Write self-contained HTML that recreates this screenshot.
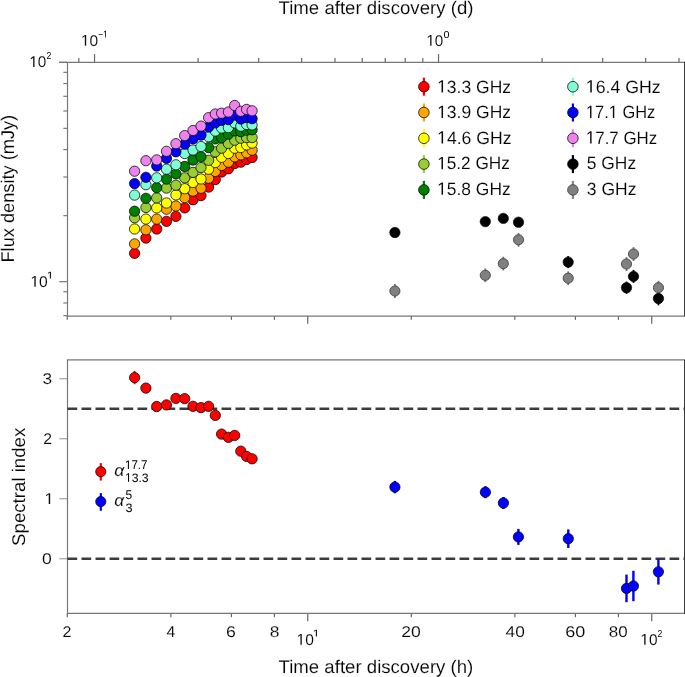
<!DOCTYPE html><html><head><meta charset="utf-8"><style>html,body{margin:0;padding:0;background:#fff;overflow:hidden}svg{display:block;will-change:transform}text{stroke:#fff;stroke-width:0.12px}</style></head><body><svg width="685" height="677" viewBox="0 0 685 677" text-rendering="geometricPrecision" font-family='"Liberation Sans", sans-serif' fill="#000">
<rect width="685" height="677" fill="#fff"/>
<line x1="63.3" y1="315.69" x2="67.5" y2="315.69" stroke="#777" stroke-width="1.2"/>
<line x1="63.3" y1="302.96" x2="67.5" y2="302.96" stroke="#777" stroke-width="1.2"/>
<line x1="63.3" y1="291.74" x2="67.5" y2="291.74" stroke="#777" stroke-width="1.2"/>
<line x1="63.3" y1="215.65" x2="67.5" y2="215.65" stroke="#777" stroke-width="1.2"/>
<line x1="63.3" y1="177.02" x2="67.5" y2="177.02" stroke="#777" stroke-width="1.2"/>
<line x1="63.3" y1="149.61" x2="67.5" y2="149.61" stroke="#777" stroke-width="1.2"/>
<line x1="63.3" y1="128.35" x2="67.5" y2="128.35" stroke="#777" stroke-width="1.2"/>
<line x1="63.3" y1="110.97" x2="67.5" y2="110.97" stroke="#777" stroke-width="1.2"/>
<line x1="63.3" y1="96.29" x2="67.5" y2="96.29" stroke="#777" stroke-width="1.2"/>
<line x1="63.3" y1="83.56" x2="67.5" y2="83.56" stroke="#777" stroke-width="1.2"/>
<line x1="63.3" y1="72.34" x2="67.5" y2="72.34" stroke="#777" stroke-width="1.2"/>
<line x1="59.2" y1="281.70" x2="67.5" y2="281.70" stroke="#777" stroke-width="1.2"/>
<line x1="59.2" y1="62.30" x2="67.5" y2="62.30" stroke="#777" stroke-width="1.2"/>
<line x1="78.80" y1="58.1" x2="78.80" y2="62.3" stroke="#666" stroke-width="1.2"/>
<line x1="198.10" y1="58.1" x2="198.10" y2="62.3" stroke="#666" stroke-width="1.2"/>
<line x1="258.67" y1="58.1" x2="258.67" y2="62.3" stroke="#666" stroke-width="1.2"/>
<line x1="301.65" y1="58.1" x2="301.65" y2="62.3" stroke="#666" stroke-width="1.2"/>
<line x1="334.99" y1="58.1" x2="334.99" y2="62.3" stroke="#666" stroke-width="1.2"/>
<line x1="362.23" y1="58.1" x2="362.23" y2="62.3" stroke="#666" stroke-width="1.2"/>
<line x1="385.26" y1="58.1" x2="385.26" y2="62.3" stroke="#666" stroke-width="1.2"/>
<line x1="405.21" y1="58.1" x2="405.21" y2="62.3" stroke="#666" stroke-width="1.2"/>
<line x1="422.80" y1="58.1" x2="422.80" y2="62.3" stroke="#666" stroke-width="1.2"/>
<line x1="542.10" y1="58.1" x2="542.10" y2="62.3" stroke="#666" stroke-width="1.2"/>
<line x1="602.67" y1="58.1" x2="602.67" y2="62.3" stroke="#666" stroke-width="1.2"/>
<line x1="645.65" y1="58.1" x2="645.65" y2="62.3" stroke="#666" stroke-width="1.2"/>
<line x1="678.99" y1="58.1" x2="678.99" y2="62.3" stroke="#666" stroke-width="1.2"/>
<line x1="94.54" y1="54.0" x2="94.54" y2="62.3" stroke="#666" stroke-width="1.2"/>
<line x1="438.54" y1="54.0" x2="438.54" y2="62.3" stroke="#666" stroke-width="1.2"/>
<line x1="67.30" y1="316.05" x2="67.30" y2="319.85" stroke="#666" stroke-width="1.2"/>
<line x1="170.86" y1="316.05" x2="170.86" y2="319.85" stroke="#666" stroke-width="1.2"/>
<line x1="231.43" y1="316.05" x2="231.43" y2="319.85" stroke="#666" stroke-width="1.2"/>
<line x1="274.41" y1="316.05" x2="274.41" y2="319.85" stroke="#666" stroke-width="1.2"/>
<line x1="411.30" y1="316.05" x2="411.30" y2="319.85" stroke="#666" stroke-width="1.2"/>
<line x1="514.86" y1="316.05" x2="514.86" y2="319.85" stroke="#666" stroke-width="1.2"/>
<line x1="575.43" y1="316.05" x2="575.43" y2="319.85" stroke="#666" stroke-width="1.2"/>
<line x1="618.41" y1="316.05" x2="618.41" y2="319.85" stroke="#666" stroke-width="1.2"/>
<line x1="307.75" y1="316.05" x2="307.75" y2="323.85" stroke="#666" stroke-width="1.2"/>
<line x1="651.75" y1="316.05" x2="651.75" y2="323.85" stroke="#666" stroke-width="1.2"/>
<line x1="67.30" y1="613.4" x2="67.30" y2="617.1999999999999" stroke="#666" stroke-width="1.2"/>
<line x1="170.86" y1="613.4" x2="170.86" y2="617.1999999999999" stroke="#666" stroke-width="1.2"/>
<line x1="231.43" y1="613.4" x2="231.43" y2="617.1999999999999" stroke="#666" stroke-width="1.2"/>
<line x1="274.41" y1="613.4" x2="274.41" y2="617.1999999999999" stroke="#666" stroke-width="1.2"/>
<line x1="411.30" y1="613.4" x2="411.30" y2="617.1999999999999" stroke="#666" stroke-width="1.2"/>
<line x1="514.86" y1="613.4" x2="514.86" y2="617.1999999999999" stroke="#666" stroke-width="1.2"/>
<line x1="575.43" y1="613.4" x2="575.43" y2="617.1999999999999" stroke="#666" stroke-width="1.2"/>
<line x1="618.41" y1="613.4" x2="618.41" y2="617.1999999999999" stroke="#666" stroke-width="1.2"/>
<line x1="307.75" y1="613.4" x2="307.75" y2="621.1999999999999" stroke="#666" stroke-width="1.2"/>
<line x1="651.75" y1="613.4" x2="651.75" y2="621.1999999999999" stroke="#666" stroke-width="1.2"/>
<line x1="59.3" y1="558.70" x2="67.5" y2="558.70" stroke="#a8a8a8" stroke-width="1.3"/>
<line x1="59.3" y1="498.70" x2="67.5" y2="498.70" stroke="#a8a8a8" stroke-width="1.3"/>
<line x1="59.3" y1="438.70" x2="67.5" y2="438.70" stroke="#a8a8a8" stroke-width="1.3"/>
<line x1="59.3" y1="378.70" x2="67.5" y2="378.70" stroke="#a8a8a8" stroke-width="1.3"/>
<line x1="59.2" y1="62.3" x2="684.0" y2="62.3" stroke="#777" stroke-width="1.2"/>
<line x1="66.9" y1="316.05" x2="684.0" y2="316.05" stroke="#777" stroke-width="1.2"/>
<line x1="67.5" y1="62.3" x2="67.5" y2="316.65000000000003" stroke="#777" stroke-width="1.2"/>
<line x1="66.9" y1="359.9" x2="684.0" y2="359.9" stroke="#777" stroke-width="1.2"/>
<line x1="66.9" y1="613.4" x2="684.0" y2="613.4" stroke="#777" stroke-width="1.2"/>
<line x1="67.5" y1="359.9" x2="67.5" y2="614.0" stroke="#777" stroke-width="1.2"/>
<line x1="684.5" y1="61.699999999999996" x2="684.5" y2="316.65000000000003" stroke="#3a3a3a" stroke-width="1.0"/>
<line x1="684.5" y1="359.29999999999995" x2="684.5" y2="614.0" stroke="#3a3a3a" stroke-width="1.0"/>
<line x1="67.5" y1="408.70" x2="684.5" y2="408.70" stroke="#3c3c3c" stroke-width="2.6" stroke-dasharray="9.7 4.3"/>
<line x1="67.5" y1="558.70" x2="684.5" y2="558.70" stroke="#3c3c3c" stroke-width="2.6" stroke-dasharray="9.7 4.3"/>
<line x1="134.60" y1="248.80" x2="134.60" y2="257.80" stroke="#ff0000" stroke-width="1.6"/>
<line x1="145.90" y1="233.60" x2="145.90" y2="242.60" stroke="#ff0000" stroke-width="1.6"/>
<line x1="156.70" y1="224.50" x2="156.70" y2="233.50" stroke="#ff0000" stroke-width="1.6"/>
<line x1="166.50" y1="216.80" x2="166.50" y2="225.80" stroke="#ff0000" stroke-width="1.6"/>
<line x1="175.90" y1="211.90" x2="175.90" y2="220.90" stroke="#ff0000" stroke-width="1.6"/>
<line x1="184.70" y1="203.40" x2="184.70" y2="212.40" stroke="#ff0000" stroke-width="1.6"/>
<line x1="193.00" y1="195.30" x2="193.00" y2="204.30" stroke="#ff0000" stroke-width="1.6"/>
<line x1="201.00" y1="191.10" x2="201.00" y2="200.10" stroke="#ff0000" stroke-width="1.6"/>
<line x1="208.60" y1="182.60" x2="208.60" y2="191.60" stroke="#ff0000" stroke-width="1.6"/>
<line x1="215.30" y1="175.10" x2="215.30" y2="184.10" stroke="#ff0000" stroke-width="1.6"/>
<line x1="221.60" y1="167.50" x2="221.60" y2="176.50" stroke="#ff0000" stroke-width="1.6"/>
<line x1="228.40" y1="164.30" x2="228.40" y2="173.30" stroke="#ff0000" stroke-width="1.6"/>
<line x1="234.70" y1="159.00" x2="234.70" y2="168.00" stroke="#ff0000" stroke-width="1.6"/>
<line x1="240.80" y1="157.70" x2="240.80" y2="166.70" stroke="#ff0000" stroke-width="1.6"/>
<line x1="246.60" y1="155.00" x2="246.60" y2="164.00" stroke="#ff0000" stroke-width="1.6"/>
<line x1="252.10" y1="153.00" x2="252.10" y2="162.00" stroke="#ff0000" stroke-width="1.6"/>
<circle cx="134.60" cy="253.30" r="5.15" fill="#ff0000" stroke="#000" stroke-width="0.75"/>
<circle cx="145.90" cy="238.10" r="5.15" fill="#ff0000" stroke="#000" stroke-width="0.75"/>
<circle cx="156.70" cy="229.00" r="5.15" fill="#ff0000" stroke="#000" stroke-width="0.75"/>
<circle cx="166.50" cy="221.30" r="5.15" fill="#ff0000" stroke="#000" stroke-width="0.75"/>
<circle cx="175.90" cy="216.40" r="5.15" fill="#ff0000" stroke="#000" stroke-width="0.75"/>
<circle cx="184.70" cy="207.90" r="5.15" fill="#ff0000" stroke="#000" stroke-width="0.75"/>
<circle cx="193.00" cy="199.80" r="5.15" fill="#ff0000" stroke="#000" stroke-width="0.75"/>
<circle cx="201.00" cy="195.60" r="5.15" fill="#ff0000" stroke="#000" stroke-width="0.75"/>
<circle cx="208.60" cy="187.10" r="5.15" fill="#ff0000" stroke="#000" stroke-width="0.75"/>
<circle cx="215.30" cy="179.60" r="5.15" fill="#ff0000" stroke="#000" stroke-width="0.75"/>
<circle cx="221.60" cy="172.00" r="5.15" fill="#ff0000" stroke="#000" stroke-width="0.75"/>
<circle cx="228.40" cy="168.80" r="5.15" fill="#ff0000" stroke="#000" stroke-width="0.75"/>
<circle cx="234.70" cy="163.50" r="5.15" fill="#ff0000" stroke="#000" stroke-width="0.75"/>
<circle cx="240.80" cy="162.20" r="5.15" fill="#ff0000" stroke="#000" stroke-width="0.75"/>
<circle cx="246.60" cy="159.50" r="5.15" fill="#ff0000" stroke="#000" stroke-width="0.75"/>
<circle cx="252.10" cy="157.50" r="5.15" fill="#ff0000" stroke="#000" stroke-width="0.75"/>
<line x1="134.60" y1="239.40" x2="134.60" y2="248.40" stroke="#ffa500" stroke-width="1.6"/>
<line x1="145.90" y1="225.30" x2="145.90" y2="234.30" stroke="#ffa500" stroke-width="1.6"/>
<line x1="156.70" y1="214.60" x2="156.70" y2="223.60" stroke="#ffa500" stroke-width="1.6"/>
<line x1="166.50" y1="204.70" x2="166.50" y2="213.70" stroke="#ffa500" stroke-width="1.6"/>
<line x1="175.90" y1="201.50" x2="175.90" y2="210.50" stroke="#ffa500" stroke-width="1.6"/>
<line x1="184.70" y1="193.20" x2="184.70" y2="202.20" stroke="#ffa500" stroke-width="1.6"/>
<line x1="193.00" y1="186.60" x2="193.00" y2="195.60" stroke="#ffa500" stroke-width="1.6"/>
<line x1="201.00" y1="183.80" x2="201.00" y2="192.80" stroke="#ffa500" stroke-width="1.6"/>
<line x1="208.60" y1="173.70" x2="208.60" y2="182.70" stroke="#ffa500" stroke-width="1.6"/>
<line x1="215.30" y1="166.90" x2="215.30" y2="175.90" stroke="#ffa500" stroke-width="1.6"/>
<line x1="221.60" y1="160.90" x2="221.60" y2="169.90" stroke="#ffa500" stroke-width="1.6"/>
<line x1="228.40" y1="157.70" x2="228.40" y2="166.70" stroke="#ffa500" stroke-width="1.6"/>
<line x1="234.70" y1="152.30" x2="234.70" y2="161.30" stroke="#ffa500" stroke-width="1.6"/>
<line x1="240.80" y1="150.30" x2="240.80" y2="159.30" stroke="#ffa500" stroke-width="1.6"/>
<line x1="246.60" y1="148.30" x2="246.60" y2="157.30" stroke="#ffa500" stroke-width="1.6"/>
<line x1="252.10" y1="145.70" x2="252.10" y2="154.70" stroke="#ffa500" stroke-width="1.6"/>
<circle cx="134.60" cy="243.90" r="5.15" fill="#ffa500" stroke="#000" stroke-width="0.75"/>
<circle cx="145.90" cy="229.80" r="5.15" fill="#ffa500" stroke="#000" stroke-width="0.75"/>
<circle cx="156.70" cy="219.10" r="5.15" fill="#ffa500" stroke="#000" stroke-width="0.75"/>
<circle cx="166.50" cy="209.20" r="5.15" fill="#ffa500" stroke="#000" stroke-width="0.75"/>
<circle cx="175.90" cy="206.00" r="5.15" fill="#ffa500" stroke="#000" stroke-width="0.75"/>
<circle cx="184.70" cy="197.70" r="5.15" fill="#ffa500" stroke="#000" stroke-width="0.75"/>
<circle cx="193.00" cy="191.10" r="5.15" fill="#ffa500" stroke="#000" stroke-width="0.75"/>
<circle cx="201.00" cy="188.30" r="5.15" fill="#ffa500" stroke="#000" stroke-width="0.75"/>
<circle cx="208.60" cy="178.20" r="5.15" fill="#ffa500" stroke="#000" stroke-width="0.75"/>
<circle cx="215.30" cy="171.40" r="5.15" fill="#ffa500" stroke="#000" stroke-width="0.75"/>
<circle cx="221.60" cy="165.40" r="5.15" fill="#ffa500" stroke="#000" stroke-width="0.75"/>
<circle cx="228.40" cy="162.20" r="5.15" fill="#ffa500" stroke="#000" stroke-width="0.75"/>
<circle cx="234.70" cy="156.80" r="5.15" fill="#ffa500" stroke="#000" stroke-width="0.75"/>
<circle cx="240.80" cy="154.80" r="5.15" fill="#ffa500" stroke="#000" stroke-width="0.75"/>
<circle cx="246.60" cy="152.80" r="5.15" fill="#ffa500" stroke="#000" stroke-width="0.75"/>
<circle cx="252.10" cy="150.20" r="5.15" fill="#ffa500" stroke="#000" stroke-width="0.75"/>
<line x1="134.60" y1="224.50" x2="134.60" y2="233.50" stroke="#ffff00" stroke-width="1.6"/>
<line x1="145.90" y1="214.60" x2="145.90" y2="223.60" stroke="#ffff00" stroke-width="1.6"/>
<line x1="156.70" y1="203.40" x2="156.70" y2="212.40" stroke="#ffff00" stroke-width="1.6"/>
<line x1="166.50" y1="198.50" x2="166.50" y2="207.50" stroke="#ffff00" stroke-width="1.6"/>
<line x1="175.90" y1="190.40" x2="175.90" y2="199.40" stroke="#ffff00" stroke-width="1.6"/>
<line x1="184.70" y1="184.20" x2="184.70" y2="193.20" stroke="#ffff00" stroke-width="1.6"/>
<line x1="193.00" y1="178.00" x2="193.00" y2="187.00" stroke="#ffff00" stroke-width="1.6"/>
<line x1="201.00" y1="174.50" x2="201.00" y2="183.50" stroke="#ffff00" stroke-width="1.6"/>
<line x1="208.60" y1="164.70" x2="208.60" y2="173.70" stroke="#ffff00" stroke-width="1.6"/>
<line x1="215.30" y1="158.00" x2="215.30" y2="167.00" stroke="#ffff00" stroke-width="1.6"/>
<line x1="221.60" y1="152.80" x2="221.60" y2="161.80" stroke="#ffff00" stroke-width="1.6"/>
<line x1="228.40" y1="149.00" x2="228.40" y2="158.00" stroke="#ffff00" stroke-width="1.6"/>
<line x1="234.70" y1="143.70" x2="234.70" y2="152.70" stroke="#ffff00" stroke-width="1.6"/>
<line x1="240.80" y1="143.00" x2="240.80" y2="152.00" stroke="#ffff00" stroke-width="1.6"/>
<line x1="246.60" y1="140.40" x2="246.60" y2="149.40" stroke="#ffff00" stroke-width="1.6"/>
<line x1="252.10" y1="138.60" x2="252.10" y2="147.60" stroke="#ffff00" stroke-width="1.6"/>
<circle cx="134.60" cy="229.00" r="5.15" fill="#ffff00" stroke="#000" stroke-width="0.75"/>
<circle cx="145.90" cy="219.10" r="5.15" fill="#ffff00" stroke="#000" stroke-width="0.75"/>
<circle cx="156.70" cy="207.90" r="5.15" fill="#ffff00" stroke="#000" stroke-width="0.75"/>
<circle cx="166.50" cy="203.00" r="5.15" fill="#ffff00" stroke="#000" stroke-width="0.75"/>
<circle cx="175.90" cy="194.90" r="5.15" fill="#ffff00" stroke="#000" stroke-width="0.75"/>
<circle cx="184.70" cy="188.70" r="5.15" fill="#ffff00" stroke="#000" stroke-width="0.75"/>
<circle cx="193.00" cy="182.50" r="5.15" fill="#ffff00" stroke="#000" stroke-width="0.75"/>
<circle cx="201.00" cy="179.00" r="5.15" fill="#ffff00" stroke="#000" stroke-width="0.75"/>
<circle cx="208.60" cy="169.20" r="5.15" fill="#ffff00" stroke="#000" stroke-width="0.75"/>
<circle cx="215.30" cy="162.50" r="5.15" fill="#ffff00" stroke="#000" stroke-width="0.75"/>
<circle cx="221.60" cy="157.30" r="5.15" fill="#ffff00" stroke="#000" stroke-width="0.75"/>
<circle cx="228.40" cy="153.50" r="5.15" fill="#ffff00" stroke="#000" stroke-width="0.75"/>
<circle cx="234.70" cy="148.20" r="5.15" fill="#ffff00" stroke="#000" stroke-width="0.75"/>
<circle cx="240.80" cy="147.50" r="5.15" fill="#ffff00" stroke="#000" stroke-width="0.75"/>
<circle cx="246.60" cy="144.90" r="5.15" fill="#ffff00" stroke="#000" stroke-width="0.75"/>
<circle cx="252.10" cy="143.10" r="5.15" fill="#ffff00" stroke="#000" stroke-width="0.75"/>
<line x1="134.60" y1="213.30" x2="134.60" y2="222.30" stroke="#9acd32" stroke-width="1.6"/>
<line x1="145.90" y1="203.00" x2="145.90" y2="212.00" stroke="#9acd32" stroke-width="1.6"/>
<line x1="156.70" y1="193.40" x2="156.70" y2="202.40" stroke="#9acd32" stroke-width="1.6"/>
<line x1="166.50" y1="183.60" x2="166.50" y2="192.60" stroke="#9acd32" stroke-width="1.6"/>
<line x1="175.90" y1="180.70" x2="175.90" y2="189.70" stroke="#9acd32" stroke-width="1.6"/>
<line x1="184.70" y1="173.30" x2="184.70" y2="182.30" stroke="#9acd32" stroke-width="1.6"/>
<line x1="193.00" y1="167.90" x2="193.00" y2="176.90" stroke="#9acd32" stroke-width="1.6"/>
<line x1="201.00" y1="163.10" x2="201.00" y2="172.10" stroke="#9acd32" stroke-width="1.6"/>
<line x1="208.60" y1="155.80" x2="208.60" y2="164.80" stroke="#9acd32" stroke-width="1.6"/>
<line x1="215.30" y1="147.30" x2="215.30" y2="156.30" stroke="#9acd32" stroke-width="1.6"/>
<line x1="221.60" y1="143.70" x2="221.60" y2="152.70" stroke="#9acd32" stroke-width="1.6"/>
<line x1="228.40" y1="139.00" x2="228.40" y2="148.00" stroke="#9acd32" stroke-width="1.6"/>
<line x1="234.70" y1="135.70" x2="234.70" y2="144.70" stroke="#9acd32" stroke-width="1.6"/>
<line x1="240.80" y1="133.70" x2="240.80" y2="142.70" stroke="#9acd32" stroke-width="1.6"/>
<line x1="246.60" y1="133.10" x2="246.60" y2="142.10" stroke="#9acd32" stroke-width="1.6"/>
<line x1="252.10" y1="133.10" x2="252.10" y2="142.10" stroke="#9acd32" stroke-width="1.6"/>
<circle cx="134.60" cy="217.80" r="5.15" fill="#9acd32" stroke="#000" stroke-width="0.75"/>
<circle cx="145.90" cy="207.50" r="5.15" fill="#9acd32" stroke="#000" stroke-width="0.75"/>
<circle cx="156.70" cy="197.90" r="5.15" fill="#9acd32" stroke="#000" stroke-width="0.75"/>
<circle cx="166.50" cy="188.10" r="5.15" fill="#9acd32" stroke="#000" stroke-width="0.75"/>
<circle cx="175.90" cy="185.20" r="5.15" fill="#9acd32" stroke="#000" stroke-width="0.75"/>
<circle cx="184.70" cy="177.80" r="5.15" fill="#9acd32" stroke="#000" stroke-width="0.75"/>
<circle cx="193.00" cy="172.40" r="5.15" fill="#9acd32" stroke="#000" stroke-width="0.75"/>
<circle cx="201.00" cy="167.60" r="5.15" fill="#9acd32" stroke="#000" stroke-width="0.75"/>
<circle cx="208.60" cy="160.30" r="5.15" fill="#9acd32" stroke="#000" stroke-width="0.75"/>
<circle cx="215.30" cy="151.80" r="5.15" fill="#9acd32" stroke="#000" stroke-width="0.75"/>
<circle cx="221.60" cy="148.20" r="5.15" fill="#9acd32" stroke="#000" stroke-width="0.75"/>
<circle cx="228.40" cy="143.50" r="5.15" fill="#9acd32" stroke="#000" stroke-width="0.75"/>
<circle cx="234.70" cy="140.20" r="5.15" fill="#9acd32" stroke="#000" stroke-width="0.75"/>
<circle cx="240.80" cy="138.20" r="5.15" fill="#9acd32" stroke="#000" stroke-width="0.75"/>
<circle cx="246.60" cy="137.60" r="5.15" fill="#9acd32" stroke="#000" stroke-width="0.75"/>
<circle cx="252.10" cy="137.60" r="5.15" fill="#9acd32" stroke="#000" stroke-width="0.75"/>
<line x1="134.60" y1="206.70" x2="134.60" y2="215.70" stroke="#008000" stroke-width="1.6"/>
<line x1="145.90" y1="193.80" x2="145.90" y2="202.80" stroke="#008000" stroke-width="1.6"/>
<line x1="156.70" y1="183.20" x2="156.70" y2="192.20" stroke="#008000" stroke-width="1.6"/>
<line x1="166.50" y1="174.60" x2="166.50" y2="183.60" stroke="#008000" stroke-width="1.6"/>
<line x1="175.90" y1="169.30" x2="175.90" y2="178.30" stroke="#008000" stroke-width="1.6"/>
<line x1="184.70" y1="162.00" x2="184.70" y2="171.00" stroke="#008000" stroke-width="1.6"/>
<line x1="193.00" y1="155.50" x2="193.00" y2="164.50" stroke="#008000" stroke-width="1.6"/>
<line x1="201.00" y1="152.20" x2="201.00" y2="161.20" stroke="#008000" stroke-width="1.6"/>
<line x1="208.60" y1="143.10" x2="208.60" y2="152.10" stroke="#008000" stroke-width="1.6"/>
<line x1="215.30" y1="134.40" x2="215.30" y2="143.40" stroke="#008000" stroke-width="1.6"/>
<line x1="221.60" y1="133.10" x2="221.60" y2="142.10" stroke="#008000" stroke-width="1.6"/>
<line x1="228.40" y1="129.70" x2="228.40" y2="138.70" stroke="#008000" stroke-width="1.6"/>
<line x1="234.70" y1="126.40" x2="234.70" y2="135.40" stroke="#008000" stroke-width="1.6"/>
<line x1="240.80" y1="127.10" x2="240.80" y2="136.10" stroke="#008000" stroke-width="1.6"/>
<line x1="246.60" y1="125.70" x2="246.60" y2="134.70" stroke="#008000" stroke-width="1.6"/>
<line x1="252.10" y1="125.30" x2="252.10" y2="134.30" stroke="#008000" stroke-width="1.6"/>
<circle cx="134.60" cy="211.20" r="5.15" fill="#008000" stroke="#000" stroke-width="0.75"/>
<circle cx="145.90" cy="198.30" r="5.15" fill="#008000" stroke="#000" stroke-width="0.75"/>
<circle cx="156.70" cy="187.70" r="5.15" fill="#008000" stroke="#000" stroke-width="0.75"/>
<circle cx="166.50" cy="179.10" r="5.15" fill="#008000" stroke="#000" stroke-width="0.75"/>
<circle cx="175.90" cy="173.80" r="5.15" fill="#008000" stroke="#000" stroke-width="0.75"/>
<circle cx="184.70" cy="166.50" r="5.15" fill="#008000" stroke="#000" stroke-width="0.75"/>
<circle cx="193.00" cy="160.00" r="5.15" fill="#008000" stroke="#000" stroke-width="0.75"/>
<circle cx="201.00" cy="156.70" r="5.15" fill="#008000" stroke="#000" stroke-width="0.75"/>
<circle cx="208.60" cy="147.60" r="5.15" fill="#008000" stroke="#000" stroke-width="0.75"/>
<circle cx="215.30" cy="138.90" r="5.15" fill="#008000" stroke="#000" stroke-width="0.75"/>
<circle cx="221.60" cy="137.60" r="5.15" fill="#008000" stroke="#000" stroke-width="0.75"/>
<circle cx="228.40" cy="134.20" r="5.15" fill="#008000" stroke="#000" stroke-width="0.75"/>
<circle cx="234.70" cy="130.90" r="5.15" fill="#008000" stroke="#000" stroke-width="0.75"/>
<circle cx="240.80" cy="131.60" r="5.15" fill="#008000" stroke="#000" stroke-width="0.75"/>
<circle cx="246.60" cy="130.20" r="5.15" fill="#008000" stroke="#000" stroke-width="0.75"/>
<circle cx="252.10" cy="129.80" r="5.15" fill="#008000" stroke="#000" stroke-width="0.75"/>
<line x1="134.60" y1="190.60" x2="134.60" y2="199.60" stroke="#7fffd4" stroke-width="1.6"/>
<line x1="145.90" y1="180.20" x2="145.90" y2="189.20" stroke="#7fffd4" stroke-width="1.6"/>
<line x1="156.70" y1="173.30" x2="156.70" y2="182.30" stroke="#7fffd4" stroke-width="1.6"/>
<line x1="166.50" y1="164.70" x2="166.50" y2="173.70" stroke="#7fffd4" stroke-width="1.6"/>
<line x1="175.90" y1="160.30" x2="175.90" y2="169.30" stroke="#7fffd4" stroke-width="1.6"/>
<line x1="184.70" y1="149.00" x2="184.70" y2="158.00" stroke="#7fffd4" stroke-width="1.6"/>
<line x1="193.00" y1="145.50" x2="193.00" y2="154.50" stroke="#7fffd4" stroke-width="1.6"/>
<line x1="201.00" y1="142.00" x2="201.00" y2="151.00" stroke="#7fffd4" stroke-width="1.6"/>
<line x1="208.60" y1="132.20" x2="208.60" y2="141.20" stroke="#7fffd4" stroke-width="1.6"/>
<line x1="215.30" y1="126.50" x2="215.30" y2="135.50" stroke="#7fffd4" stroke-width="1.6"/>
<line x1="221.60" y1="123.50" x2="221.60" y2="132.50" stroke="#7fffd4" stroke-width="1.6"/>
<line x1="228.40" y1="123.10" x2="228.40" y2="132.10" stroke="#7fffd4" stroke-width="1.6"/>
<line x1="234.70" y1="118.40" x2="234.70" y2="127.40" stroke="#7fffd4" stroke-width="1.6"/>
<line x1="240.80" y1="121.70" x2="240.80" y2="130.70" stroke="#7fffd4" stroke-width="1.6"/>
<line x1="246.60" y1="120.00" x2="246.60" y2="129.00" stroke="#7fffd4" stroke-width="1.6"/>
<line x1="252.10" y1="120.40" x2="252.10" y2="129.40" stroke="#7fffd4" stroke-width="1.6"/>
<circle cx="134.60" cy="195.10" r="5.15" fill="#7fffd4" stroke="#000" stroke-width="0.75"/>
<circle cx="145.90" cy="184.70" r="5.15" fill="#7fffd4" stroke="#000" stroke-width="0.75"/>
<circle cx="156.70" cy="177.80" r="5.15" fill="#7fffd4" stroke="#000" stroke-width="0.75"/>
<circle cx="166.50" cy="169.20" r="5.15" fill="#7fffd4" stroke="#000" stroke-width="0.75"/>
<circle cx="175.90" cy="164.80" r="5.15" fill="#7fffd4" stroke="#000" stroke-width="0.75"/>
<circle cx="184.70" cy="153.50" r="5.15" fill="#7fffd4" stroke="#000" stroke-width="0.75"/>
<circle cx="193.00" cy="150.00" r="5.15" fill="#7fffd4" stroke="#000" stroke-width="0.75"/>
<circle cx="201.00" cy="146.50" r="5.15" fill="#7fffd4" stroke="#000" stroke-width="0.75"/>
<circle cx="208.60" cy="136.70" r="5.15" fill="#7fffd4" stroke="#000" stroke-width="0.75"/>
<circle cx="215.30" cy="131.00" r="5.15" fill="#7fffd4" stroke="#000" stroke-width="0.75"/>
<circle cx="221.60" cy="128.00" r="5.15" fill="#7fffd4" stroke="#000" stroke-width="0.75"/>
<circle cx="228.40" cy="127.60" r="5.15" fill="#7fffd4" stroke="#000" stroke-width="0.75"/>
<circle cx="234.70" cy="122.90" r="5.15" fill="#7fffd4" stroke="#000" stroke-width="0.75"/>
<circle cx="240.80" cy="126.20" r="5.15" fill="#7fffd4" stroke="#000" stroke-width="0.75"/>
<circle cx="246.60" cy="124.50" r="5.15" fill="#7fffd4" stroke="#000" stroke-width="0.75"/>
<circle cx="252.10" cy="124.90" r="5.15" fill="#7fffd4" stroke="#000" stroke-width="0.75"/>
<line x1="134.60" y1="179.10" x2="134.60" y2="188.10" stroke="#0000ff" stroke-width="1.6"/>
<line x1="145.90" y1="172.80" x2="145.90" y2="181.80" stroke="#0000ff" stroke-width="1.6"/>
<line x1="156.70" y1="161.50" x2="156.70" y2="170.50" stroke="#0000ff" stroke-width="1.6"/>
<line x1="166.50" y1="153.80" x2="166.50" y2="162.80" stroke="#0000ff" stroke-width="1.6"/>
<line x1="175.90" y1="147.30" x2="175.90" y2="156.30" stroke="#0000ff" stroke-width="1.6"/>
<line x1="184.70" y1="139.70" x2="184.70" y2="148.70" stroke="#0000ff" stroke-width="1.6"/>
<line x1="193.00" y1="134.30" x2="193.00" y2="143.30" stroke="#0000ff" stroke-width="1.6"/>
<line x1="201.00" y1="130.60" x2="201.00" y2="139.60" stroke="#0000ff" stroke-width="1.6"/>
<line x1="208.60" y1="122.50" x2="208.60" y2="131.50" stroke="#0000ff" stroke-width="1.6"/>
<line x1="215.30" y1="118.40" x2="215.30" y2="127.40" stroke="#0000ff" stroke-width="1.6"/>
<line x1="221.60" y1="115.90" x2="221.60" y2="124.90" stroke="#0000ff" stroke-width="1.6"/>
<line x1="228.40" y1="115.10" x2="228.40" y2="124.10" stroke="#0000ff" stroke-width="1.6"/>
<line x1="234.70" y1="110.50" x2="234.70" y2="119.50" stroke="#0000ff" stroke-width="1.6"/>
<line x1="240.80" y1="114.50" x2="240.80" y2="123.50" stroke="#0000ff" stroke-width="1.6"/>
<line x1="246.60" y1="113.10" x2="246.60" y2="122.10" stroke="#0000ff" stroke-width="1.6"/>
<line x1="252.10" y1="114.20" x2="252.10" y2="123.20" stroke="#0000ff" stroke-width="1.6"/>
<circle cx="134.60" cy="183.60" r="5.15" fill="#0000ff" stroke="#000" stroke-width="0.75"/>
<circle cx="145.90" cy="177.30" r="5.15" fill="#0000ff" stroke="#000" stroke-width="0.75"/>
<circle cx="156.70" cy="166.00" r="5.15" fill="#0000ff" stroke="#000" stroke-width="0.75"/>
<circle cx="166.50" cy="158.30" r="5.15" fill="#0000ff" stroke="#000" stroke-width="0.75"/>
<circle cx="175.90" cy="151.80" r="5.15" fill="#0000ff" stroke="#000" stroke-width="0.75"/>
<circle cx="184.70" cy="144.20" r="5.15" fill="#0000ff" stroke="#000" stroke-width="0.75"/>
<circle cx="193.00" cy="138.80" r="5.15" fill="#0000ff" stroke="#000" stroke-width="0.75"/>
<circle cx="201.00" cy="135.10" r="5.15" fill="#0000ff" stroke="#000" stroke-width="0.75"/>
<circle cx="208.60" cy="127.00" r="5.15" fill="#0000ff" stroke="#000" stroke-width="0.75"/>
<circle cx="215.30" cy="122.90" r="5.15" fill="#0000ff" stroke="#000" stroke-width="0.75"/>
<circle cx="221.60" cy="120.40" r="5.15" fill="#0000ff" stroke="#000" stroke-width="0.75"/>
<circle cx="228.40" cy="119.60" r="5.15" fill="#0000ff" stroke="#000" stroke-width="0.75"/>
<circle cx="234.70" cy="115.00" r="5.15" fill="#0000ff" stroke="#000" stroke-width="0.75"/>
<circle cx="240.80" cy="119.00" r="5.15" fill="#0000ff" stroke="#000" stroke-width="0.75"/>
<circle cx="246.60" cy="117.60" r="5.15" fill="#0000ff" stroke="#000" stroke-width="0.75"/>
<circle cx="252.10" cy="118.70" r="5.15" fill="#0000ff" stroke="#000" stroke-width="0.75"/>
<line x1="134.60" y1="166.70" x2="134.60" y2="175.70" stroke="#ee82ee" stroke-width="1.6"/>
<line x1="145.90" y1="156.20" x2="145.90" y2="165.20" stroke="#ee82ee" stroke-width="1.6"/>
<line x1="156.70" y1="155.40" x2="156.70" y2="164.40" stroke="#ee82ee" stroke-width="1.6"/>
<line x1="166.50" y1="146.80" x2="166.50" y2="155.80" stroke="#ee82ee" stroke-width="1.6"/>
<line x1="175.90" y1="139.20" x2="175.90" y2="148.20" stroke="#ee82ee" stroke-width="1.6"/>
<line x1="184.70" y1="131.10" x2="184.70" y2="140.10" stroke="#ee82ee" stroke-width="1.6"/>
<line x1="193.00" y1="126.00" x2="193.00" y2="135.00" stroke="#ee82ee" stroke-width="1.6"/>
<line x1="201.00" y1="121.60" x2="201.00" y2="130.60" stroke="#ee82ee" stroke-width="1.6"/>
<line x1="208.60" y1="113.20" x2="208.60" y2="122.20" stroke="#ee82ee" stroke-width="1.6"/>
<line x1="215.30" y1="109.50" x2="215.30" y2="118.50" stroke="#ee82ee" stroke-width="1.6"/>
<line x1="221.60" y1="108.70" x2="221.60" y2="117.70" stroke="#ee82ee" stroke-width="1.6"/>
<line x1="228.40" y1="107.50" x2="228.40" y2="116.50" stroke="#ee82ee" stroke-width="1.6"/>
<line x1="234.70" y1="101.00" x2="234.70" y2="110.00" stroke="#ee82ee" stroke-width="1.6"/>
<line x1="240.80" y1="106.80" x2="240.80" y2="115.80" stroke="#ee82ee" stroke-width="1.6"/>
<line x1="246.60" y1="104.90" x2="246.60" y2="113.90" stroke="#ee82ee" stroke-width="1.6"/>
<line x1="252.10" y1="106.30" x2="252.10" y2="115.30" stroke="#ee82ee" stroke-width="1.6"/>
<circle cx="134.60" cy="171.20" r="5.15" fill="#ee82ee" stroke="#000" stroke-width="0.75"/>
<circle cx="145.90" cy="160.70" r="5.15" fill="#ee82ee" stroke="#000" stroke-width="0.75"/>
<circle cx="156.70" cy="159.90" r="5.15" fill="#ee82ee" stroke="#000" stroke-width="0.75"/>
<circle cx="166.50" cy="151.30" r="5.15" fill="#ee82ee" stroke="#000" stroke-width="0.75"/>
<circle cx="175.90" cy="143.70" r="5.15" fill="#ee82ee" stroke="#000" stroke-width="0.75"/>
<circle cx="184.70" cy="135.60" r="5.15" fill="#ee82ee" stroke="#000" stroke-width="0.75"/>
<circle cx="193.00" cy="130.50" r="5.15" fill="#ee82ee" stroke="#000" stroke-width="0.75"/>
<circle cx="201.00" cy="126.10" r="5.15" fill="#ee82ee" stroke="#000" stroke-width="0.75"/>
<circle cx="208.60" cy="117.70" r="5.15" fill="#ee82ee" stroke="#000" stroke-width="0.75"/>
<circle cx="215.30" cy="114.00" r="5.15" fill="#ee82ee" stroke="#000" stroke-width="0.75"/>
<circle cx="221.60" cy="113.20" r="5.15" fill="#ee82ee" stroke="#000" stroke-width="0.75"/>
<circle cx="228.40" cy="112.00" r="5.15" fill="#ee82ee" stroke="#000" stroke-width="0.75"/>
<circle cx="234.70" cy="105.50" r="5.15" fill="#ee82ee" stroke="#000" stroke-width="0.75"/>
<circle cx="240.80" cy="111.30" r="5.15" fill="#ee82ee" stroke="#000" stroke-width="0.75"/>
<circle cx="246.60" cy="109.40" r="5.15" fill="#ee82ee" stroke="#000" stroke-width="0.75"/>
<circle cx="252.10" cy="110.80" r="5.15" fill="#ee82ee" stroke="#000" stroke-width="0.75"/>
<line x1="394.90" y1="228.00" x2="394.90" y2="237.00" stroke="#000" stroke-width="1.8"/>
<line x1="485.30" y1="217.10" x2="485.30" y2="226.10" stroke="#000" stroke-width="1.8"/>
<line x1="503.30" y1="213.90" x2="503.30" y2="222.90" stroke="#000" stroke-width="1.8"/>
<line x1="518.50" y1="217.70" x2="518.50" y2="226.70" stroke="#000" stroke-width="1.8"/>
<line x1="568.20" y1="256.10" x2="568.20" y2="268.10" stroke="#000" stroke-width="1.8"/>
<line x1="626.50" y1="281.60" x2="626.50" y2="293.80" stroke="#000" stroke-width="1.8"/>
<line x1="633.50" y1="269.90" x2="633.50" y2="282.90" stroke="#000" stroke-width="1.8"/>
<line x1="658.45" y1="291.70" x2="658.45" y2="305.30" stroke="#000" stroke-width="1.8"/>
<line x1="394.90" y1="284.10" x2="394.90" y2="297.90" stroke="#777" stroke-width="1.8"/>
<line x1="485.30" y1="268.40" x2="485.30" y2="282.20" stroke="#777" stroke-width="1.8"/>
<line x1="503.30" y1="256.70" x2="503.30" y2="270.50" stroke="#777" stroke-width="1.8"/>
<line x1="518.50" y1="232.90" x2="518.50" y2="246.70" stroke="#777" stroke-width="1.8"/>
<line x1="568.20" y1="271.30" x2="568.20" y2="285.10" stroke="#777" stroke-width="1.8"/>
<line x1="626.50" y1="257.10" x2="626.50" y2="270.90" stroke="#777" stroke-width="1.8"/>
<line x1="633.50" y1="247.10" x2="633.50" y2="260.90" stroke="#777" stroke-width="1.8"/>
<line x1="658.45" y1="280.80" x2="658.45" y2="294.60" stroke="#777" stroke-width="1.8"/>
<circle cx="394.90" cy="232.50" r="5.2" fill="#000" stroke="#000" stroke-width="0.6"/>
<circle cx="485.30" cy="221.60" r="5.2" fill="#000" stroke="#000" stroke-width="0.6"/>
<circle cx="503.30" cy="218.40" r="5.2" fill="#000" stroke="#000" stroke-width="0.6"/>
<circle cx="518.50" cy="222.20" r="5.2" fill="#000" stroke="#000" stroke-width="0.6"/>
<circle cx="568.20" cy="262.10" r="5.2" fill="#000" stroke="#000" stroke-width="0.6"/>
<circle cx="626.50" cy="287.70" r="5.2" fill="#000" stroke="#000" stroke-width="0.6"/>
<circle cx="633.50" cy="276.40" r="5.2" fill="#000" stroke="#000" stroke-width="0.6"/>
<circle cx="658.45" cy="298.50" r="5.2" fill="#000" stroke="#000" stroke-width="0.6"/>
<circle cx="394.90" cy="291.00" r="5.1" fill="#808080" stroke="#3a3a3a" stroke-width="0.8"/>
<circle cx="485.30" cy="275.30" r="5.1" fill="#808080" stroke="#3a3a3a" stroke-width="0.8"/>
<circle cx="503.30" cy="263.60" r="5.1" fill="#808080" stroke="#3a3a3a" stroke-width="0.8"/>
<circle cx="518.50" cy="239.80" r="5.1" fill="#808080" stroke="#3a3a3a" stroke-width="0.8"/>
<circle cx="568.20" cy="278.20" r="5.1" fill="#808080" stroke="#3a3a3a" stroke-width="0.8"/>
<circle cx="626.50" cy="264.00" r="5.1" fill="#808080" stroke="#3a3a3a" stroke-width="0.8"/>
<circle cx="633.50" cy="254.00" r="5.1" fill="#808080" stroke="#3a3a3a" stroke-width="0.8"/>
<circle cx="658.45" cy="287.70" r="5.1" fill="#808080" stroke="#3a3a3a" stroke-width="0.8"/>
<line x1="134.60" y1="371.00" x2="134.60" y2="384.20" stroke="#ff0000" stroke-width="2.0"/>
<line x1="145.90" y1="383.60" x2="145.90" y2="392.60" stroke="#ff0000" stroke-width="2.0"/>
<line x1="156.70" y1="402.00" x2="156.70" y2="411.00" stroke="#ff0000" stroke-width="2.0"/>
<line x1="166.50" y1="400.40" x2="166.50" y2="409.40" stroke="#ff0000" stroke-width="2.0"/>
<line x1="175.90" y1="393.90" x2="175.90" y2="402.90" stroke="#ff0000" stroke-width="2.0"/>
<line x1="184.70" y1="394.10" x2="184.70" y2="403.10" stroke="#ff0000" stroke-width="2.0"/>
<line x1="193.00" y1="401.80" x2="193.00" y2="410.80" stroke="#ff0000" stroke-width="2.0"/>
<line x1="201.00" y1="403.10" x2="201.00" y2="412.10" stroke="#ff0000" stroke-width="2.0"/>
<line x1="208.60" y1="401.80" x2="208.60" y2="410.80" stroke="#ff0000" stroke-width="2.0"/>
<line x1="215.30" y1="410.90" x2="215.30" y2="419.90" stroke="#ff0000" stroke-width="2.0"/>
<line x1="221.60" y1="429.60" x2="221.60" y2="438.60" stroke="#ff0000" stroke-width="2.0"/>
<line x1="228.40" y1="432.80" x2="228.40" y2="441.80" stroke="#ff0000" stroke-width="2.0"/>
<line x1="234.70" y1="430.90" x2="234.70" y2="439.90" stroke="#ff0000" stroke-width="2.0"/>
<line x1="240.80" y1="446.70" x2="240.80" y2="455.70" stroke="#ff0000" stroke-width="2.0"/>
<line x1="246.60" y1="451.90" x2="246.60" y2="460.90" stroke="#ff0000" stroke-width="2.0"/>
<line x1="252.10" y1="454.30" x2="252.10" y2="463.30" stroke="#ff0000" stroke-width="2.0"/>
<circle cx="134.60" cy="377.60" r="5.15" fill="#ff0000" stroke="#000" stroke-width="0.75"/>
<circle cx="145.90" cy="388.10" r="5.15" fill="#ff0000" stroke="#000" stroke-width="0.75"/>
<circle cx="156.70" cy="406.50" r="5.15" fill="#ff0000" stroke="#000" stroke-width="0.75"/>
<circle cx="166.50" cy="404.90" r="5.15" fill="#ff0000" stroke="#000" stroke-width="0.75"/>
<circle cx="175.90" cy="398.40" r="5.15" fill="#ff0000" stroke="#000" stroke-width="0.75"/>
<circle cx="184.70" cy="398.60" r="5.15" fill="#ff0000" stroke="#000" stroke-width="0.75"/>
<circle cx="193.00" cy="406.30" r="5.15" fill="#ff0000" stroke="#000" stroke-width="0.75"/>
<circle cx="201.00" cy="407.60" r="5.15" fill="#ff0000" stroke="#000" stroke-width="0.75"/>
<circle cx="208.60" cy="406.30" r="5.15" fill="#ff0000" stroke="#000" stroke-width="0.75"/>
<circle cx="215.30" cy="415.40" r="5.15" fill="#ff0000" stroke="#000" stroke-width="0.75"/>
<circle cx="221.60" cy="434.10" r="5.15" fill="#ff0000" stroke="#000" stroke-width="0.75"/>
<circle cx="228.40" cy="437.30" r="5.15" fill="#ff0000" stroke="#000" stroke-width="0.75"/>
<circle cx="234.70" cy="435.40" r="5.15" fill="#ff0000" stroke="#000" stroke-width="0.75"/>
<circle cx="240.80" cy="451.20" r="5.15" fill="#ff0000" stroke="#000" stroke-width="0.75"/>
<circle cx="246.60" cy="456.40" r="5.15" fill="#ff0000" stroke="#000" stroke-width="0.75"/>
<circle cx="252.10" cy="458.80" r="5.15" fill="#ff0000" stroke="#000" stroke-width="0.75"/>
<line x1="394.90" y1="480.90" x2="394.90" y2="493.30" stroke="#0000ff" stroke-width="2.4"/>
<line x1="485.40" y1="486.20" x2="485.40" y2="498.20" stroke="#0000ff" stroke-width="2.4"/>
<line x1="503.40" y1="497.00" x2="503.40" y2="509.00" stroke="#0000ff" stroke-width="2.4"/>
<line x1="518.40" y1="528.90" x2="518.40" y2="544.90" stroke="#0000ff" stroke-width="2.4"/>
<line x1="568.30" y1="529.40" x2="568.30" y2="548.00" stroke="#0000ff" stroke-width="2.4"/>
<line x1="626.50" y1="574.60" x2="626.50" y2="602.20" stroke="#0000ff" stroke-width="2.4"/>
<line x1="633.40" y1="570.80" x2="633.40" y2="601.20" stroke="#0000ff" stroke-width="2.4"/>
<line x1="658.40" y1="559.00" x2="658.40" y2="584.60" stroke="#0000ff" stroke-width="2.4"/>
<circle cx="394.90" cy="487.10" r="5.15" fill="#0000ff" stroke="#000" stroke-width="0.75"/>
<circle cx="485.40" cy="492.20" r="5.15" fill="#0000ff" stroke="#000" stroke-width="0.75"/>
<circle cx="503.40" cy="503.00" r="5.15" fill="#0000ff" stroke="#000" stroke-width="0.75"/>
<circle cx="518.40" cy="536.90" r="5.15" fill="#0000ff" stroke="#000" stroke-width="0.75"/>
<circle cx="568.30" cy="538.70" r="5.15" fill="#0000ff" stroke="#000" stroke-width="0.75"/>
<circle cx="626.50" cy="588.40" r="5.15" fill="#0000ff" stroke="#000" stroke-width="0.75"/>
<circle cx="633.40" cy="586.00" r="5.15" fill="#0000ff" stroke="#000" stroke-width="0.75"/>
<circle cx="658.40" cy="571.80" r="5.15" fill="#0000ff" stroke="#000" stroke-width="0.75"/>
<line x1="423.90" y1="77.70" x2="423.90" y2="95.70" stroke="#ff0000" stroke-width="2.2"/>
<circle cx="423.90" cy="86.70" r="5.3" fill="#ff0000" stroke="#000" stroke-width="0.75"/>
<text x="437.12" y="92.50" font-size="17.8" textLength="73.96" lengthAdjust="spacingAndGlyphs"> 3.3 GHz</text><path d="M515 0L515 1237L197 1010L197 1180L530 1409L696 1409L696 0Z" transform="translate(437.116,92.50) scale(0.008549,-0.008691)" stroke="#fff" stroke-width="0.12" vector-effect="non-scaling-stroke"/>
<line x1="423.90" y1="103.50" x2="423.90" y2="121.50" stroke="#ffa500" stroke-width="2.2"/>
<circle cx="423.90" cy="112.50" r="5.3" fill="#ffa500" stroke="#000" stroke-width="0.75"/>
<text x="437.12" y="118.05" font-size="17.8" textLength="73.96" lengthAdjust="spacingAndGlyphs"> 3.9 GHz</text><path d="M515 0L515 1237L197 1010L197 1180L530 1409L696 1409L696 0Z" transform="translate(437.116,118.05) scale(0.008549,-0.008691)" stroke="#fff" stroke-width="0.12" vector-effect="non-scaling-stroke"/>
<line x1="423.90" y1="129.30" x2="423.90" y2="147.30" stroke="#ffff00" stroke-width="2.2"/>
<circle cx="423.90" cy="138.30" r="5.3" fill="#ffff00" stroke="#000" stroke-width="0.75"/>
<text x="437.10" y="143.60" font-size="17.8" textLength="74.48" lengthAdjust="spacingAndGlyphs"> 4.6 GHz</text><path d="M515 0L515 1237L197 1010L197 1180L530 1409L696 1409L696 0Z" transform="translate(437.104,143.60) scale(0.008609,-0.008691)" stroke="#fff" stroke-width="0.12" vector-effect="non-scaling-stroke"/>
<line x1="423.90" y1="155.10" x2="423.90" y2="173.10" stroke="#9acd32" stroke-width="2.2"/>
<circle cx="423.90" cy="164.10" r="5.3" fill="#9acd32" stroke="#000" stroke-width="0.75"/>
<text x="437.14" y="169.15" font-size="17.8" textLength="72.82" lengthAdjust="spacingAndGlyphs"> 5.2 GHz</text><path d="M515 0L515 1237L197 1010L197 1180L530 1409L696 1409L696 0Z" transform="translate(437.142,169.15) scale(0.008417,-0.008691)" stroke="#fff" stroke-width="0.12" vector-effect="non-scaling-stroke"/>
<line x1="423.90" y1="180.90" x2="423.90" y2="198.90" stroke="#008000" stroke-width="2.2"/>
<circle cx="423.90" cy="189.90" r="5.3" fill="#008000" stroke="#000" stroke-width="0.75"/>
<text x="437.13" y="194.70" font-size="17.8" textLength="73.55" lengthAdjust="spacingAndGlyphs"> 5.8 GHz</text><path d="M515 0L515 1237L197 1010L197 1180L530 1409L696 1409L696 0Z" transform="translate(437.125,194.70) scale(0.008501,-0.008691)" stroke="#fff" stroke-width="0.12" vector-effect="non-scaling-stroke"/>
<line x1="572.90" y1="77.70" x2="572.90" y2="95.70" stroke="#7fffd4" stroke-width="2.2"/>
<circle cx="572.90" cy="86.70" r="5.3" fill="#7fffd4" stroke="#000" stroke-width="0.75"/>
<text x="585.79" y="92.50" font-size="17.8" textLength="74.89" lengthAdjust="spacingAndGlyphs"> 6.4 GHz</text><path d="M515 0L515 1237L197 1010L197 1180L530 1409L696 1409L696 0Z" transform="translate(585.795,92.50) scale(0.008657,-0.008691)" stroke="#fff" stroke-width="0.12" vector-effect="non-scaling-stroke"/>
<line x1="572.90" y1="103.50" x2="572.90" y2="121.50" stroke="#0000ff" stroke-width="2.2"/>
<circle cx="572.90" cy="112.50" r="5.3" fill="#0000ff" stroke="#000" stroke-width="0.75"/>
<text x="585.92" y="118.05" font-size="17.8" textLength="69.30" lengthAdjust="spacingAndGlyphs"> 7.  GHz</text><path d="M515 0L515 1237L197 1010L197 1180L530 1409L696 1409L696 0Z" transform="translate(585.922,118.05) scale(0.008010,-0.008691)" stroke="#fff" stroke-width="0.12" vector-effect="non-scaling-stroke"/><path d="M515 0L515 1237L197 1010L197 1180L530 1409L696 1409L696 0Z" transform="translate(608.728,118.05) scale(0.008010,-0.008691)" stroke="#fff" stroke-width="0.12" vector-effect="non-scaling-stroke"/>
<line x1="572.90" y1="129.30" x2="572.90" y2="147.30" stroke="#ee82ee" stroke-width="2.2"/>
<circle cx="572.90" cy="138.30" r="5.3" fill="#ee82ee" stroke="#000" stroke-width="0.75"/>
<text x="585.87" y="143.60" font-size="17.8" textLength="71.37" lengthAdjust="spacingAndGlyphs"> 7.7 GHz</text><path d="M515 0L515 1237L197 1010L197 1180L530 1409L696 1409L696 0Z" transform="translate(585.875,143.60) scale(0.008250,-0.008691)" stroke="#fff" stroke-width="0.12" vector-effect="non-scaling-stroke"/>
<line x1="572.90" y1="155.10" x2="572.90" y2="173.10" stroke="#000" stroke-width="2.2"/>
<circle cx="572.90" cy="164.10" r="5.3" fill="#000" stroke="#000" stroke-width="0.75"/>
<text x="586.80" y="169.15" font-size="17.8" textLength="49.37" lengthAdjust="spacingAndGlyphs">5 GHz</text>
<line x1="572.90" y1="180.90" x2="572.90" y2="198.90" stroke="#888" stroke-width="2.2"/>
<circle cx="572.90" cy="189.90" r="5.3" fill="#808080" stroke="#3a3a3a" stroke-width="0.75"/>
<text x="586.84" y="194.70" font-size="17.8" textLength="49.63" lengthAdjust="spacingAndGlyphs">3 GHz</text>
<line x1="100.80" y1="463.10" x2="100.80" y2="480.60" stroke="#ff0000" stroke-width="2.2"/>
<circle cx="100.80" cy="471.70" r="5.1" fill="#ff0000" stroke="#000" stroke-width="0.75"/>
<line x1="100.80" y1="493.10" x2="100.80" y2="510.80" stroke="#0000ff" stroke-width="2.2"/>
<circle cx="100.80" cy="501.60" r="5.1" fill="#0000ff" stroke="#000" stroke-width="0.75"/>
<text x="114.28" y="476.30" font-size="16.6" textLength="10.03" lengthAdjust="spacingAndGlyphs" font-style="italic">α</text>
<text x="124.99" y="469.10" font-size="12.6" textLength="22.40" lengthAdjust="spacingAndGlyphs" style="stroke:none"> 7.7</text><path d="M515 0L515 1237L197 1010L197 1180L530 1409L696 1409L696 0Z" transform="translate(124.993,469.10) scale(0.005618,-0.006152)"/>
<text x="124.93" y="481.70" font-size="12.2" textLength="23.70" lengthAdjust="spacingAndGlyphs" style="stroke:none"> 3.3</text><path d="M515 0L515 1237L197 1010L197 1180L530 1409L696 1409L696 0Z" transform="translate(124.929,481.70) scale(0.005946,-0.005957)"/>
<text x="114.20" y="506.30" font-size="16.6" textLength="9.82" lengthAdjust="spacingAndGlyphs" font-style="italic">α</text>
<text x="125.62" y="499.20" font-size="12.6" textLength="6.67" lengthAdjust="spacingAndGlyphs" style="stroke:none">5</text>
<text x="125.63" y="511.70" font-size="12.2" textLength="7.03" lengthAdjust="spacingAndGlyphs" style="stroke:none">3</text>
<text x="80.90" y="45.70" font-size="15.6" textLength="17.30" lengthAdjust="spacingAndGlyphs"> 0</text><path d="M515 0L515 1237L197 1010L197 1180L530 1409L696 1409L696 0Z" transform="translate(80.904,45.70) scale(0.007593,-0.007617)" stroke="#fff" stroke-width="0.12" vector-effect="non-scaling-stroke"/>
<text x="97.97" y="37.60" font-size="10.0" textLength="9.92" lengthAdjust="spacingAndGlyphs" style="stroke:none">− </text><path d="M515 0L515 1237L197 1010L197 1180L530 1409L696 1409L696 0Z" transform="translate(103.044,37.60) scale(0.004247,-0.004883)"/>
<text x="426.33" y="45.70" font-size="15.6" textLength="16.96" lengthAdjust="spacingAndGlyphs"> 0</text><path d="M515 0L515 1237L197 1010L197 1180L530 1409L696 1409L696 0Z" transform="translate(426.334,45.70) scale(0.007443,-0.007617)" stroke="#fff" stroke-width="0.12" vector-effect="non-scaling-stroke"/>
<text x="443.52" y="37.60" font-size="10.0" textLength="6.00" lengthAdjust="spacingAndGlyphs" style="stroke:none">0</text>
<text x="29.32" y="67.10" font-size="15.6" textLength="17.07" lengthAdjust="spacingAndGlyphs"> 0</text><path d="M515 0L515 1237L197 1010L197 1180L530 1409L696 1409L696 0Z" transform="translate(29.324,67.10) scale(0.007493,-0.007617)" stroke="#fff" stroke-width="0.12" vector-effect="non-scaling-stroke"/>
<text x="46.57" y="59.00" font-size="10.0" textLength="4.77" lengthAdjust="spacingAndGlyphs" style="stroke:none">2</text>
<text x="30.39" y="286.70" font-size="15.6" textLength="17.41" lengthAdjust="spacingAndGlyphs"> 0</text><path d="M515 0L515 1237L197 1010L197 1180L530 1409L696 1409L696 0Z" transform="translate(30.394,286.70) scale(0.007643,-0.007617)" stroke="#fff" stroke-width="0.12" vector-effect="non-scaling-stroke"/>
<text x="46.86" y="278.60" font-size="10.0" textLength="6.62" lengthAdjust="spacingAndGlyphs" style="stroke:none"> </text><path d="M515 0L515 1237L197 1010L197 1180L530 1409L696 1409L696 0Z" transform="translate(46.855,278.60) scale(0.005812,-0.004883)"/>
<text x="296.50" y="644.70" font-size="15.6" textLength="17.30" lengthAdjust="spacingAndGlyphs"> 0</text><path d="M515 0L515 1237L197 1010L197 1180L530 1409L696 1409L696 0Z" transform="translate(296.504,644.70) scale(0.007593,-0.007617)" stroke="#fff" stroke-width="0.12" vector-effect="non-scaling-stroke"/>
<text x="312.86" y="636.60" font-size="10.0" textLength="6.62" lengthAdjust="spacingAndGlyphs" style="stroke:none"> </text><path d="M515 0L515 1237L197 1010L197 1180L530 1409L696 1409L696 0Z" transform="translate(312.855,636.60) scale(0.005812,-0.004883)"/>
<text x="640.31" y="644.70" font-size="15.6" textLength="17.18" lengthAdjust="spacingAndGlyphs"> 0</text><path d="M515 0L515 1237L197 1010L197 1180L530 1409L696 1409L696 0Z" transform="translate(640.314,644.70) scale(0.007543,-0.007617)" stroke="#fff" stroke-width="0.12" vector-effect="non-scaling-stroke"/>
<text x="657.57" y="636.60" font-size="10.0" textLength="4.77" lengthAdjust="spacingAndGlyphs" style="stroke:none">2</text>
<text x="62.60" y="636.60" font-size="15.6" textLength="8.92" lengthAdjust="spacingAndGlyphs">2</text>
<text x="166.64" y="636.60" font-size="15.6" textLength="8.81" lengthAdjust="spacingAndGlyphs">4</text>
<text x="226.11" y="636.60" font-size="15.6" textLength="9.86" lengthAdjust="spacingAndGlyphs">6</text>
<text x="269.66" y="636.60" font-size="15.6" textLength="9.70" lengthAdjust="spacingAndGlyphs">8</text>
<text x="401.32" y="636.60" font-size="15.6" textLength="19.56" lengthAdjust="spacingAndGlyphs">20</text>
<text x="505.61" y="636.60" font-size="15.6" textLength="19.26" lengthAdjust="spacingAndGlyphs">40</text>
<text x="565.30" y="636.60" font-size="15.6" textLength="20.10" lengthAdjust="spacingAndGlyphs">60</text>
<text x="608.88" y="636.60" font-size="15.6" textLength="18.88" lengthAdjust="spacingAndGlyphs">80</text>
<text x="42.10" y="563.90" font-size="15.6" textLength="9.78" lengthAdjust="spacingAndGlyphs">0</text>
<text x="44.48" y="503.90" font-size="15.6" textLength="9.36" lengthAdjust="spacingAndGlyphs"> </text><path d="M515 0L515 1237L197 1010L197 1180L530 1409L696 1409L696 0Z" transform="translate(44.481,503.90) scale(0.008216,-0.007617)" stroke="#fff" stroke-width="0.12" vector-effect="non-scaling-stroke"/>
<text x="43.21" y="443.90" font-size="15.6" textLength="8.80" lengthAdjust="spacingAndGlyphs">2</text>
<text x="42.45" y="383.90" font-size="15.6" textLength="9.60" lengthAdjust="spacingAndGlyphs">3</text>
<text x="278.53" y="13.75" font-size="18.4" textLength="195.00" lengthAdjust="spacingAndGlyphs">Time after discovery (d)</text>
<text x="278.53" y="673.10" font-size="18.4" textLength="194.80" lengthAdjust="spacingAndGlyphs">Time after discovery (h)</text>
<text transform="translate(13.80,261.00) rotate(-90)" x="-1.50" y="0" font-size="18.4" textLength="147.69" lengthAdjust="spacingAndGlyphs">Flux density (mJy)</text>
<text transform="translate(25.30,545.10) rotate(-90)" x="-0.84" y="0" font-size="18.4" textLength="118.27" lengthAdjust="spacingAndGlyphs">Spectral index</text>
</svg></body></html>
